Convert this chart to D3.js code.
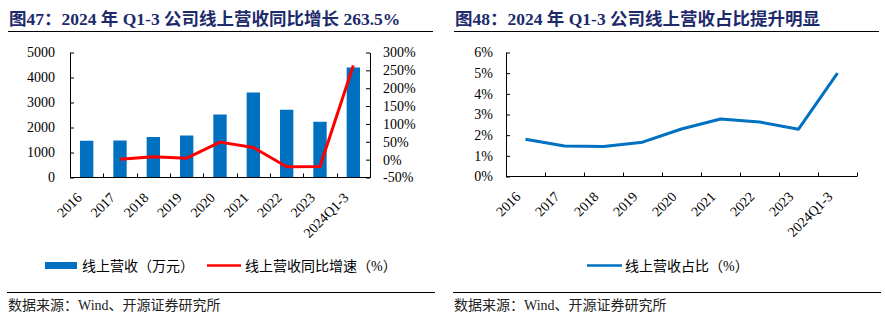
<!doctype html>
<html>
<head>
<meta charset="utf-8"/>
<title>线上营收</title>
<style>
body{margin:0;background:#fff;}
text{font-family:"Liberation Serif","Noto Sans CJK SC",serif;}
</style>
<script src="https://cdn.jsdelivr.net/npm/d3@7"></script>
</head>
<body>
<script>
// data
var cats = ["2016","2017","2018","2019","2020","2021","2022","2023","2024Q1-3"];
var revenue = [1470,1480,1620,1680,2520,3400,2710,2230,4400];
var growth = [null,1,8,4,49,34,-20,-19,263.5];
var share = [1.8,1.48,1.45,1.66,2.3,2.78,2.64,2.29,5.0];
var leftTicks = [0,1000,2000,3000,4000,5000];
var rightTicks = [-50,0,50,100,150,200,250,300];
var shareTicks = [0,1,2,3,4,5,6];

var blue = "#0070C0", red = "#FF0000", navy = "#1d2a6c";

var svg = d3.select("body").append("svg")
  .attr("width", 885).attr("height", 329);

// titles, rules and sources
function header(x0, x1, title) {
  svg.append("text").attr("x", x0 + 1).attr("y", 25)
    .attr("font-size", 17.5).attr("font-weight", "bold").attr("fill", navy)
    .text(title);
  svg.append("line").attr("x1", x0).attr("x2", x1).attr("y1", 31.5).attr("y2", 31.5)
    .attr("stroke", "#000").attr("stroke-width", 1.2);
  svg.append("line").attr("x1", x0 - 1).attr("x2", x1 + 2).attr("y1", 292.5).attr("y2", 292.5)
    .attr("stroke", "#000").attr("stroke-width", 1.2);
  svg.append("text").attr("x", x0).attr("y", 310)
    .attr("font-size", 14).attr("fill", "#222")
    .text("数据来源：Wind、开源证券研究所");
}
header(8, 433, "图47：2024 年 Q1-3 公司线上营收同比增长 263.5%");
header(454, 879, "图48：2024 年 Q1-3 公司线上营收占比提升明显");

function xAxis(g, x, y0) {
  g.append("line").attr("x1", x.range()[0]).attr("x2", x.range()[1])
    .attr("y1", y0).attr("y2", y0).attr("stroke", "#000");
  var bounds = cats.map(function(c){ return x(c); }).concat([x.range()[1]]);
  g.selectAll(".bt").data(bounds).enter().append("line")
    .attr("x1", function(d){ return Math.round(d) + 0.5; })
    .attr("x2", function(d){ return Math.round(d) + 0.5; })
    .attr("y1", y0).attr("y2", y0 - 4).attr("stroke", "#000");
  g.selectAll(".xl").data(cats).enter().append("text")
    .attr("transform", function(d){
      return "translate(" + (x(d) + x.bandwidth() / 2 - 4) + "," + (y0 + 21) + ") rotate(-45)";
    })
    .attr("text-anchor", "end").attr("font-size", 14).attr("fill", "#000")
    .text(function(d){ return d; });
}

function styleAxis(g) {
  g.selectAll("path").attr("stroke", "#000");
  g.selectAll("line").attr("stroke", "#000");
  g.selectAll("text").attr("font-size", 14).attr("fill", "#000")
    .attr("font-family", "Liberation Serif, serif");
}

// ---- chart 1: bars + growth line
(function(){
  var L = 70, R = 370, T = 52.5, B = 177.5;
  var x = d3.scaleBand().domain(cats).range([L, R]).padding(0);
  var y = d3.scaleLinear().domain([0, 5000]).range([B, T]);
  var y2 = d3.scaleLinear().domain([-50, 300]).range([B, T]);
  var g = svg.append("g");

  g.selectAll(".bar").data(revenue).enter().append("rect")
    .attr("x", function(d, i){ return x(cats[i]) + x.bandwidth() * 0.3; })
    .attr("width", x.bandwidth() * 0.4)
    .attr("y", function(d){ return y(d); })
    .attr("height", function(d){ return B - y(d); })
    .attr("fill", blue);

  g.append("g").attr("transform", "translate(" + L + ",0)")
    .call(d3.axisLeft(y).tickValues(leftTicks).tickSize(-4).tickSizeOuter(0).tickPadding(15)
      .tickFormat(d3.format("d")))
    .call(styleAxis);
  g.append("g").attr("transform", "translate(" + R + ",0)")
    .call(d3.axisRight(y2).tickValues(rightTicks).tickSize(-4).tickSizeOuter(0).tickPadding(13)
      .tickFormat(function(d){ return d + "%"; }))
    .call(styleAxis);
  xAxis(g, x, B);

  var line = d3.line()
    .defined(function(d){ return d != null; })
    .x(function(d, i){ return x(cats[i]) + x.bandwidth() / 2; })
    .y(function(d){ return y2(d); });
  g.append("path").datum(growth).attr("d", line)
    .attr("fill", "none").attr("stroke", red).attr("stroke-width", 3)
    .attr("stroke-linejoin", "round");

  // legend
  g.append("rect").attr("x", 45).attr("y", 262).attr("width", 32).attr("height", 7).attr("fill", blue);
  g.append("text").attr("x", 82).attr("y", 271).attr("font-size", 14).attr("fill", "#000")
    .text("线上营收（万元）");
  g.append("line").attr("x1", 207).attr("x2", 241).attr("y1", 265.5).attr("y2", 265.5)
    .attr("stroke", red).attr("stroke-width", 2.5);
  g.append("text").attr("x", 245).attr("y", 271).attr("font-size", 14).attr("fill", "#000")
    .text("线上营收同比增速（%）");
})();

// ---- chart 2: share line
(function(){
  var L = 506, R = 857, T = 52.5, B = 176.5;
  var x = d3.scaleBand().domain(cats).range([L, R]).padding(0);
  var y = d3.scaleLinear().domain([0, 6]).range([B, T]);
  var g = svg.append("g");

  g.append("g").attr("transform", "translate(" + L + ",0)")
    .call(d3.axisLeft(y).tickValues(shareTicks).tickSize(-4).tickSizeOuter(0).tickPadding(13)
      .tickFormat(function(d){ return d + "%"; }))
    .call(styleAxis);
  xAxis(g, x, B);

  var line = d3.line()
    .x(function(d, i){ return x(cats[i]) + x.bandwidth() / 2; })
    .y(function(d){ return y(d); });
  g.append("path").datum(share).attr("d", line)
    .attr("fill", "none").attr("stroke", blue).attr("stroke-width", 3)
    .attr("stroke-linejoin", "round");

  g.append("line").attr("x1", 587).attr("x2", 622).attr("y1", 265.5).attr("y2", 265.5)
    .attr("stroke", blue).attr("stroke-width", 2.5);
  g.append("text").attr("x", 625).attr("y", 271).attr("font-size", 14).attr("fill", "#000")
    .text("线上营收占比（%）");
})();
</script>
</body>
</html>
